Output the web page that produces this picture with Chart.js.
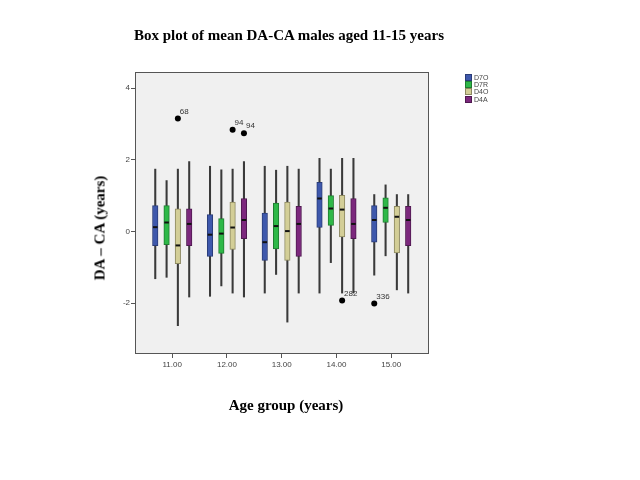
<!DOCTYPE html>
<html><head><meta charset="utf-8">
<script src="https://cdn.jsdelivr.net/npm/chart.js@4.4.1/dist/chart.umd.min.js"></script>
<style>
html,body{margin:0;padding:0;background:#fff;}
#wrap{position:relative;width:640px;height:480px;overflow:hidden;}
canvas{position:absolute;left:0;top:0;}
.t{position:absolute;font-family:"Liberation Serif","Times New Roman",serif;font-weight:bold;color:#000;white-space:nowrap;font-size:15px;line-height:1;}
#legend{position:absolute;left:465px;top:74px;font-family:"Liberation Sans",Arial,sans-serif;font-size:7px;color:#444;}
#legend div{display:flex;align-items:center;height:7.2px;}
#legend span.sw{display:inline-block;width:5px;height:5px;border:1px solid #333;margin-right:2px;box-sizing:content-box;}
</style></head><body>
<div id="wrap">
<canvas id="c" width="640" height="480"></canvas>
<div class="t" style="left:0;width:578px;text-align:center;top:28px;">Box plot of mean DA-CA males aged 11-15 years</div>
<div class="t" style="left:100px;top:228px;transform:translate(-50%,-50%) rotate(-90deg);">DA – CA (years)</div>
<div class="t" style="left:286px;top:405px;transform:translate(-50%,-50%);">Age group (years)</div>
<div id="legend"></div>
</div>
<script>
// ---- data ----
const categories = [11, 12, 13, 14, 15];
const seriesNames = ['D7O', 'D7R', 'D4O', 'D4A'];
const yTicks = [-2, 0, 2, 4];

const d7oLow  = [-1.32, -1.81, -1.72, -1.72, -1.22];
const d7oQ1   = [-0.40, -0.70, -0.81,  0.11, -0.30];
const d7oMed  = [ 0.12, -0.09, -0.30,  0.92,  0.32];
const d7oQ3   = [ 0.72,  0.47,  0.51,  1.37,  0.72];
const d7oHigh = [ 1.74,  1.82,  1.82,  2.04,  1.03];

const d7rLow  = [-1.28, -1.52, -1.20, -0.87, -0.68];
const d7rQ1   = [-0.37, -0.61, -0.49,  0.17,  0.25];
const d7rMed  = [ 0.25, -0.06,  0.15,  0.64,  0.66];
const d7rQ3   = [ 0.72,  0.36,  0.79,  1.00,  0.94];
const d7rHigh = [ 1.42,  1.72,  1.71,  1.74,  1.30];

const d4oLow  = [-2.63, -1.72, -2.53, -1.72, -1.63];
const d4oQ1   = [-0.90, -0.50, -0.81, -0.15, -0.60];
const d4oMed  = [-0.39,  0.11,  0.01,  0.61,  0.41];
const d4oQ3   = [ 0.63,  0.82,  0.82,  1.01,  0.70];
const d4oHigh = [ 1.74,  1.74,  1.82,  2.04,  1.03];

const d4aLow  = [-1.83, -1.83, -1.72, -1.72, -1.72];
const d4aQ1   = [-0.40, -0.20, -0.70, -0.20, -0.40];
const d4aMed  = [ 0.21,  0.32,  0.21,  0.21,  0.32];
const d4aQ3   = [ 0.63,  0.92,  0.70,  0.92,  0.70];
const d4aHigh = [ 1.95,  1.95,  1.74,  2.04,  1.03];

const outlierGroups = [11, 12, 12, 14, 15];
const outlierSeries = [2, 2, 3, 2, 0];
const outlierValues = [3.15, 2.84, 2.74, -1.93, -2.01];
const outlierLabels = ['68', '94', '94', '282', '336'];

// ---- styling / build ----
const colors  = ['#3E58AC', '#2EB848', '#D3CE97', '#7C287D'];
const borders = ['#2a3c78', '#1f7d31', '#8c8860', '#4f1950'];
const offsets = [-0.31, -0.103, 0.103, 0.31];
const stats = [
  [d7oLow, d7oQ1, d7oMed, d7oQ3, d7oHigh],
  [d7rLow, d7rQ1, d7rMed, d7rQ3, d7rHigh],
  [d4oLow, d4oQ1, d4oMed, d4oQ3, d4oHigh],
  [d4aLow, d4aQ1, d4aMed, d4aQ3, d4aHigh]
];

const datasets = [];
stats.forEach((s, si) => {
  const [lo, q1, med, q3, hi] = s;
  datasets.push({
    type: 'bar', label: seriesNames[si] + ' whisker', grouped: false, order: 3,
    data: categories.map((c, i) => ({x: c + offsets[si], y: [lo[i], hi[i]]})),
    backgroundColor: '#3a3a3a', borderWidth: 0, barThickness: 1.4
  });
  datasets.push({
    type: 'bar', label: seriesNames[si], grouped: false, order: 2,
    data: categories.map((c, i) => ({x: c + offsets[si], y: [q1[i], q3[i]]})),
    backgroundColor: colors[si], borderColor: borders[si], borderWidth: 1,
    borderSkipped: false, barThickness: 5.5
  });
  datasets.push({
    type: 'scatter', label: seriesNames[si] + ' median', order: 1,
    data: categories.map((c, i) => ({x: c + offsets[si], y: med[i]})),
    pointStyle: 'line', radius: 2.3, borderWidth: 2, borderColor: '#111', backgroundColor: '#111'
  });
});
datasets.push({
  type: 'scatter', label: 'outliers', order: 0,
  data: outlierGroups.map((g, i) => ({x: g + offsets[outlierSeries[i]], y: outlierValues[i]})),
  pointStyle: 'circle', radius: 3, borderWidth: 0, backgroundColor: '#000'
});

// legend
const lg = document.getElementById('legend');
seriesNames.forEach((n, i) => {
  const d = document.createElement('div');
  d.innerHTML = '<span class="sw" style="background:' + colors[i] + ';border-color:' + borders[i] + '"></span>' + n;
  lg.appendChild(d);
});

const bgPlugin = {
  id: 'plotbg',
  beforeDatasetsDraw(chart) {
    const {ctx, chartArea: a} = chart;
    ctx.save();
    ctx.fillStyle = '#f0f0f0';
    ctx.fillRect(a.left, a.top, a.right - a.left, a.bottom - a.top);
    ctx.strokeStyle = '#555';
    ctx.lineWidth = 1;
    ctx.strokeRect(a.left + 0.5, a.top + 0.5, a.right - a.left - 1, a.bottom - a.top - 1);
    ctx.restore();
  },
  afterDatasetsDraw(chart) {
    const ctx = chart.ctx;
    const meta = chart.getDatasetMeta(chart.data.datasets.length - 1);
    ctx.save();
    ctx.font = '8px "Liberation Sans", Arial, sans-serif';
    ctx.fillStyle = '#333';
    ctx.textBaseline = 'bottom';
    ctx.textAlign = 'left';
    meta.data.forEach((p, i) => ctx.fillText(outlierLabels[i], p.x + 2, p.y - 3));
    ctx.restore();
  }
};

new Chart(document.getElementById('c'), {
  type: 'bar',
  data: {datasets},
  plugins: [bgPlugin],
  options: {
    responsive: false, animation: false, devicePixelRatio: 1,
    layout: {padding: {left: 95, right: 211, top: 72, bottom: 96}},
    plugins: {legend: {display: false}, tooltip: {enabled: false}, title: {display: false}},
    scales: {
      x: {
        type: 'linear', min: 10.32, max: 15.69, offset: false,
        afterFit: s => { s.height = 30; },
        afterBuildTicks: s => { s.ticks = categories.map(v => ({value: v})); },
        grid: {display: true, offset: false, drawOnChartArea: false, drawTicks: true, tickLength: 4, color: '#555'},
        border: {display: false},
        ticks: {font: {size: 8, family: '"Liberation Sans", Arial, sans-serif'}, color: '#444', padding: 2,
                callback: v => Number(v).toFixed(2), maxRotation: 0}
      },
      y: {
        type: 'linear', min: -3.42, max: 4.45,
        afterFit: s => { s.width = 40; },
        afterBuildTicks: s => { s.ticks = yTicks.map(v => ({value: v})); },
        grid: {display: true, drawOnChartArea: false, drawTicks: true, tickLength: 4, color: '#555'},
        border: {display: false},
        ticks: {font: {size: 8, family: '"Liberation Sans", Arial, sans-serif'}, color: '#444', padding: 1}
      }
    }
  }
});
</script>
</body></html>
